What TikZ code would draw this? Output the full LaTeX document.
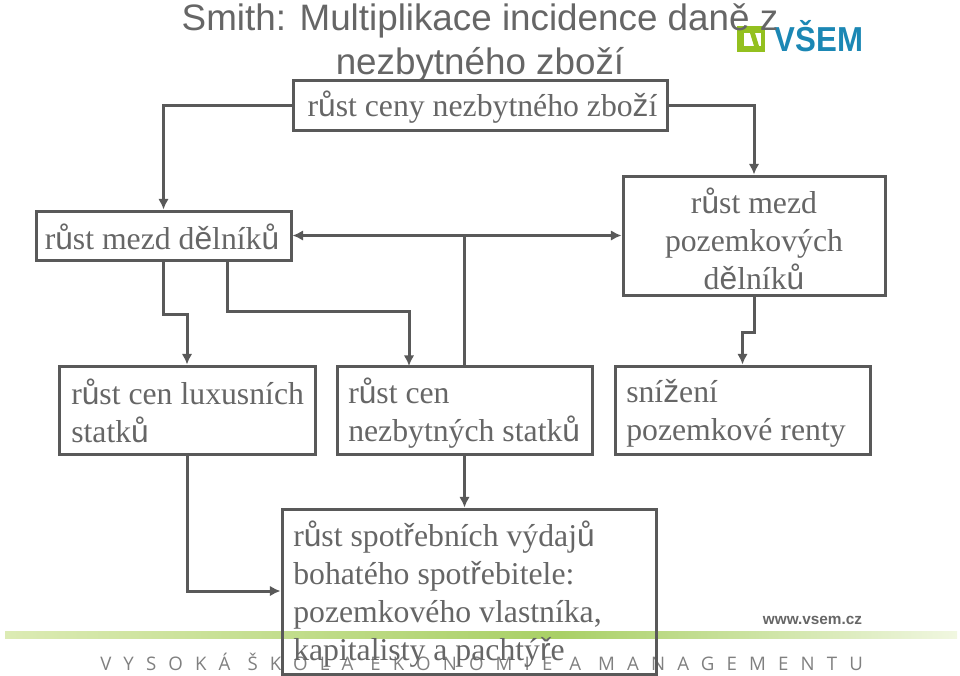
\documentclass[tikz,border=0pt]{standalone}
\usepackage{fontspec}
\setmainfont{Liberation Serif}
\newfontfamily\titlefont{Liberation Sans}
\newfontfamily\footfont[LetterSpace=65]{Open Sans}
\usetikzlibrary{arrows.meta}
\definecolor{linegray}{HTML}{595959}
\definecolor{textgray}{HTML}{666666}
\definecolor{barlight}{HTML}{DCEBB4}
\definecolor{barmid}{HTML}{A9D066}
\definecolor{logoblue}{HTML}{1B87B4}
\definecolor{logogreen}{HTML}{93C01F}
\newcommand{\zn}[1]{{\titlefont #1}}
\tikzset{>=latex}

\begin{document}
\begin{tikzpicture}[
    x = 0.75pt, y = -0.75pt,
    box/.style = {draw = linegray, line width = 2.25pt, inner sep = 0pt},
    boxtext/.style = {text = textgray, inner sep = 0pt, font = \fontsize{23.8}{28.5}\selectfont},
    link/.style = {draw = linegray, line width = 2.25pt},
    linkarrow/.style = {link, -{Latex[length=8pt, width=8pt]}},
]
\useasboundingbox (0,0) rectangle (960,675);

% footer
\shade[left color = barlight, right color = barmid] (5,631) rectangle (560,638);
\shade[left color = barmid, right color = barlight!40] (560,631) rectangle (957,638);
\node[text = black!60, font = \titlefont\bfseries\fontsize{11.5}{14}\selectfont, inner sep = 0pt] (web) at (812.5,620) {www.vsem.cz};
\node[text = black!50, font = \footfont\fontsize{14}{16}\selectfont, inner sep = 0pt, anchor = west] (school) at (100,662) {VYSOKÁ ŠKOLA EKONOMIE A MANAGEMENTU};

% logo
\fill[logogreen] (737,26) rectangle (765,52);
\fill[white] (744,33) rectangle (761,46);
\fill[logogreen] (750,33) -- (755,33) -- (759,46) -- (754,46) -- cycle;
\node[text = logoblue, font = \titlefont\bfseries\fontsize{26}{28}\selectfont, inner sep = 0pt] (logo) at (819,36) {\scalebox{0.9}[1]{VŠEM}};

\node[text = textgray, align = center, inner sep = 0pt, font = \titlefont\fontsize{27.6}{33}\selectfont] (title) at (480,43) {Smith: Multiplikace incidence daně z\\nezbytného zboží};

% boxes
\node[box, minimum width = 281pt, minimum height = 37.5pt] (cena) at (480.5,105) {};
\node[box, minimum width = 191.25pt, minimum height = 36.75pt] (delnik) at (163.5,235.5) {};
\node[box, minimum width = 196.5pt, minimum height = 89.25pt] (pozem) at (754,235.5) {};
\node[box, minimum width = 192pt, minimum height = 66pt] (lux) at (187,410) {};
\node[box, minimum width = 191.25pt, minimum height = 66pt] (nezb) at (464.5,410) {};
\node[box, minimum width = 191.25pt, minimum height = 66pt] (renta) at (742.5,410) {};
\node[box, minimum width = 280.5pt, minimum height = 123.75pt] (spotreba) at (469,591.5) {};

\node[boxtext] (cenatext) at (482.5,107) {r\zn{ů}st ceny nezbytného zbo\zn{ž}í};
\node[boxtext] (delniktext) at (162,237) {r\zn{ů}st mezd d\zn{ě}lník\zn{ů}};
\node[boxtext, align = center] (pozemtext) at (754,239) {r\zn{ů}st mezd\\pozemkových\\d\zn{ě}lník\zn{ů}};
\node[boxtext, align = left, anchor = west] (luxtext) at (71,410.5) {r\zn{ů}st cen luxusních\\statk\zn{ů}};
\node[boxtext, align = left, anchor = west] (nezbtext) at (348,413) {r\zn{ů}st cen\\nezbytných statk\zn{ů}};
\node[boxtext, align = left, anchor = west] (rentatext) at (626,413) {sní\zn{ž}ení\\pozemkové renty};
\node[boxtext, align = left, anchor = west] (spotrebatext) at (293,594.5) {r\zn{ů}st spot\zn{ř}ebních výdaj\zn{ů}\\bohatého spot\zn{ř}ebitele:\\pozemkového vlastníka,\\kapitalisty a pachtý\zn{ř}e};

% connectors
\coordinate (delout) at (227,260);
\coordinate (nezbin) at (409,366);
\draw[linkarrow] (cena.west) -| (delnik.north);
\draw[linkarrow] (cena.east) -| (pozem.north);
\draw[link, {Latex[length=8pt, width=8pt]}-{Latex[length=8pt, width=8pt]}] (delnik.east) -- (pozem.west);
\draw[link] (nezb.north) -- (nezb.north |- delnik.east);
\draw[linkarrow] (delnik.south) -- ++(0,53) -| (lux.north);
\draw[linkarrow] (delout) -- ++(0,51) -| (nezbin);
\draw[linkarrow] (pozem.south) -- ++(0,36) -| (renta.north);
\draw[linkarrow] (lux.south) |- (spotreba.west |- 0,591);
\draw[linkarrow] (nezb.south) -- (nezb.south |- spotreba.north);

\end{tikzpicture}
\end{document}
